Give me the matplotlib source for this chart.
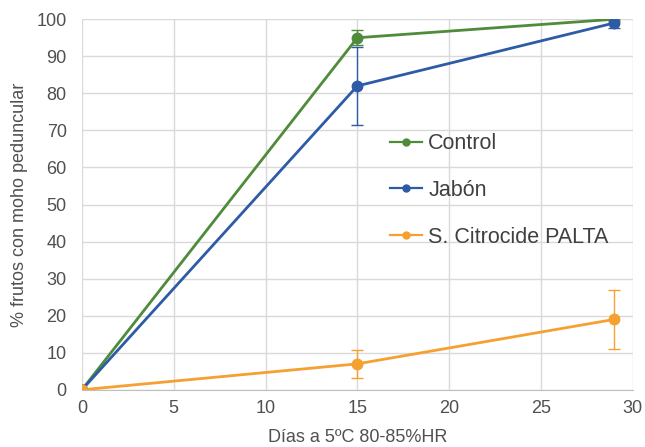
import matplotlib
matplotlib.use("Agg")
import matplotlib.pyplot as plt
from matplotlib.lines import Line2D

dias = [0, 15, 29]
control = [0, 95, 100]
control_err = [0, 2, 0.5]
jabon = [0, 82, 99]
jabon_err = [0, 10.5, 1.5]
citrocide = [0, 7, 19]
citrocide_err = [0, 3.8, 8]

series = [
    ("Control", control, control_err, "#4E8B3A"),
    ("Jabón", jabon, jabon_err, "#2E5BA6"),
    ("S. Citrocide PALTA", citrocide, citrocide_err, "#F5A030"),
]

plt.rcParams['font.family'] = ['Liberation Sans', 'DejaVu Sans']
fig = plt.figure(figsize=(6.45, 4.47), dpi=100)
ax = fig.add_axes([0.127, 0.128, 0.854, 0.829])

handles = []
for name, vals, err, col in series:
    ax.errorbar(dias, vals, yerr=err, color=col, marker='o', markersize=7.5,
                linewidth=2, elinewidth=1, capsize=4, capthick=1)
    handles.append(Line2D([], [], color=col, marker='o', markersize=5,
                          linewidth=1.6, label=name))

ax.set_xlim(0, 30)
ax.set_ylim(0, 100)
ax.set_xticks(range(0, 31, 5))
ax.set_yticks(range(0, 101, 10))
ax.grid(True, color="#D9D9D9", linewidth=1)
ax.set_axisbelow(True)
for s in ['top', 'right', 'left']:
    ax.spines[s].set_visible(False)
ax.spines['bottom'].set_color("#BFBFBF")
ax.tick_params(axis='x', length=0, labelsize=13, colors="#505050", pad=7)
ax.tick_params(axis='y', length=0, labelsize=13, colors="#505050", pad=11)
ax.set_xlabel("Días a 5ºC 80-85%HR", fontsize=13, color="#505050", labelpad=9)
ax.set_ylabel("% frutos con moho peduncular", fontsize=13, color="#505050", labelpad=6)

leg = ax.legend(handles=handles, loc='upper left', bbox_to_anchor=(0.525, 0.745),
                frameon=False, fontsize=15.5, labelspacing=1.2, handlelength=1.45,
                handletextpad=0.3)
for t in leg.get_texts():
    t.set_color("#404040")

fig.savefig("out.png", dpi=100)
